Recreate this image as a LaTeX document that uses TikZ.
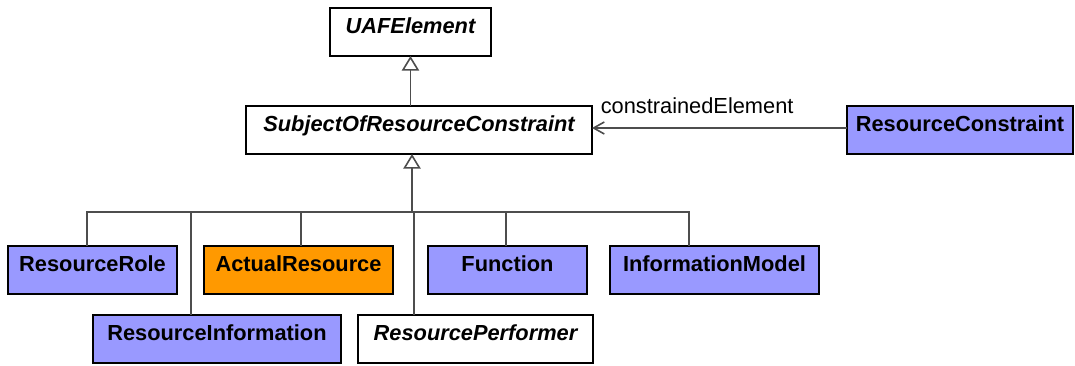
\documentclass[tikz,border=0pt]{standalone}
\usepackage{fontspec}
\setmainfont{Liberation Sans}
\usepackage{tikz}
\usetikzlibrary{arrows.meta,positioning}
\definecolor{elemblue}{HTML}{9999FF}
\definecolor{actorange}{HTML}{FF9900}
\definecolor{conngray}{HTML}{4D4D4D}
\tikzset{
  umlblock/.style={rectangle,draw=black,line width=1.1pt,fill=#1,
    minimum height=36pt,inner sep=0pt,outer sep=0pt,text=black,
    font=\fontsize{16.35pt}{19pt}\selectfont\bfseries,
    text height=11pt,text depth=8pt},
  umlblock/.default={white},
  abstractblock/.style={umlblock=white,
    font=\fontsize{16.35pt}{19pt}\selectfont\bfseries\itshape},
  generalize/.style={draw=conngray,line width=1.2pt,
    -{Triangle[open,length=11pt,width=13pt,fill=white]}},
  treeline/.style={draw=conngray,line width=1.2pt},
  assocarrow/.style={draw=conngray,line width=1.2pt,-{Straight Barb[length=8pt,width=9pt]}},
  assoclabel/.style={font=\fontsize{16.35pt}{19pt}\selectfont,inner sep=0pt,text=black},
}
\begin{document}
\begin{tikzpicture}[x=0.75pt,y=-0.75pt]
  \useasboundingbox (0,0) rectangle (1075,366);
  \node[abstractblock,minimum width=259.5pt] (subj) at (419,130) {SubjectOfResourceConstraint};
  \node[abstractblock,minimum width=120.75pt,above=37.5pt of subj,xshift=-6.4pt] (uaf) {UAFElement};
  \node[umlblock=elemblue,minimum width=169.5pt,right=191.25pt of subj] (rc) {ResourceConstraint};
  % first row of specialisations
  \node[umlblock=elemblue,minimum width=126.75pt] (rrole) at (92.5,270) {ResourceRole};
  \node[umlblock=actorange,minimum width=141.75pt,right=20.25pt of rrole] (actres) {ActualResource};
  \node[umlblock=elemblue,minimum width=119.25pt,right=26.25pt of actres] (func) {Function};
  \node[umlblock=elemblue,minimum width=156.75pt,right=17.25pt of func] (infmod) {InformationModel};
  % second row
  \node[umlblock=elemblue,minimum width=186pt] (resinfo) at (217,339) {ResourceInformation};
  \node[abstractblock,minimum width=176.25pt,right=12.75pt of resinfo] (resperf) {ResourcePerformer};
  \coordinate (joint) at (412,212);
  \draw[generalize] (subj.north -| uaf.south) -- (uaf.south);
  \draw[generalize] (joint) -- (joint |- subj.south);
  \draw[treeline] ([xshift=-4.1pt]rrole.north) |- (joint);
  \draw[treeline] ([xshift=1.9pt]actres.north) |- (joint);
  \draw[treeline] ([xshift=-1.1pt]func.north) |- (joint);
  \draw[treeline] ([xshift=-19.1pt]infmod.north) |- (joint);
  \draw[treeline] ([xshift=-19.5pt]resinfo.north) |- (joint);
  \draw[treeline] ([xshift=-46.1pt]resperf.north) |- (joint);
  \draw[assocarrow] ([yshift=1.5pt]rc.west) -- ([yshift=1.5pt]subj.east)
    node[assoclabel,pos=1,anchor=base west,xshift=6pt,yshift=10.5pt] (celabel) {constrainedElement};
\end{tikzpicture}
\end{document}
